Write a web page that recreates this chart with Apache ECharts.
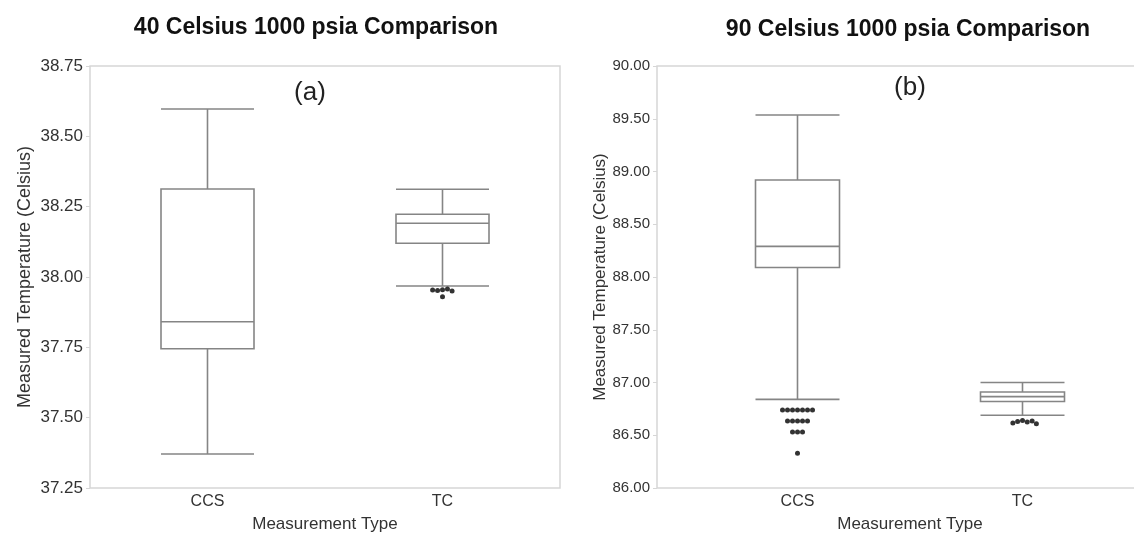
<!DOCTYPE html>
<html><head><meta charset="utf-8">
<script src="https://cdn.jsdelivr.net/npm/echarts@6/dist/echarts.min.js"></script>
<style>html,body{margin:0;padding:0;background:#fff}#c{width:1134px;height:535px}</style>
</head><body><div id="c"></div>
<script>
const categories = ['CCS', 'TC'];
const titles = ['40 Celsius 1000 psia Comparison', '90 Celsius 1000 psia Comparison'];
const panelTags = ['(a)', '(b)'];
const yName = 'Measured Temperature (Celsius)';
const xName = 'Measurement Type';
// [min, Q1, median, Q3, max]
const leftBox = [
  [37.371, 37.745, 37.841, 38.313, 38.597],
  [37.968, 38.120, 38.191, 38.223, 38.312]
];
const leftOutliers = [
  ['TC', 37.955], ['TC', 37.952], ['TC', 37.957], ['TC', 37.950], ['TC', 37.954], ['TC', 37.930]
];
const rightBox = [
  [86.84, 88.09, 88.29, 88.92, 89.535],
  [86.69, 86.82, 86.866, 86.91, 87.00]
];
const rightOutliers = [
  ['CCS', 86.74], ['CCS', 86.74], ['CCS', 86.74], ['CCS', 86.74], ['CCS', 86.74], ['CCS', 86.74], ['CCS', 86.74],
  ['CCS', 86.635], ['CCS', 86.635], ['CCS', 86.635], ['CCS', 86.635], ['CCS', 86.635],
  ['CCS', 86.53], ['CCS', 86.53], ['CCS', 86.53],
  ['CCS', 86.33],
  ['TC', 86.64], ['TC', 86.63], ['TC', 86.625], ['TC', 86.615], ['TC', 86.635], ['TC', 86.61]
];
const leftRange = { min: 37.25, max: 38.75, interval: 0.25 };
const rightRange = { min: 86, max: 90, interval: 0.5 };

const FONT = 'Liberation Sans';
const boxColor = '#858585';
const frameColor = '#d6d6d6';
const textColor = '#333';

const chart = echarts.init(document.getElementById('c'));
const fmt = v => v.toFixed(2);

function yAxisVisible(gridIndex, r, nameGap, nameSize, labelSize) {
  return {
    type: 'value', gridIndex, min: r.min, max: r.max, interval: r.interval,
    name: yName, nameLocation: 'middle', nameGap: nameGap,
    nameTextStyle: { fontFamily: FONT, fontSize: nameSize, color: textColor },
    axisLine: { show: false },
    axisTick: { show: true, length: 4, lineStyle: { color: frameColor } },
    axisLabel: { formatter: fmt, fontFamily: FONT, fontSize: labelSize, color: textColor, margin: 7 },
    splitLine: { show: false }
  };
}

function xAxisVisible(gridIndex, jitter) {
  return {
    type: 'category', gridIndex, data: categories,
    name: xName, nameLocation: 'middle', nameGap: 28,
    nameTextStyle: { fontFamily: FONT, fontSize: 17, color: textColor },
    axisLine: { show: false }, axisTick: { show: false },
    axisLabel: { fontFamily: FONT, fontSize: 16, color: textColor, margin: 6 },
    jitter: jitter, jitterOverlap: false, jitterMargin: 0
  };
}

const option = {
  backgroundColor: '#fff',
  animation: false,
  grid: [
    { left: 90, top: 66, width: 470, height: 422, show: true, borderColor: frameColor, borderWidth: 1.5, outerBoundsMode: 'none', containLabel: false },
    { left: 657, top: 66, width: 505, height: 422, show: true, borderColor: frameColor, borderWidth: 1.5, outerBoundsMode: 'none', containLabel: false },
    { left: 685, top: 66, width: 450, height: 422, show: false, outerBoundsMode: 'none', containLabel: false }
  ],
  xAxis: [
    xAxisVisible(0, 24),
    { type: 'category', gridIndex: 1, data: [''], show: false },
    xAxisVisible(2, 34)
  ],
  yAxis: [
    yAxisVisible(0, leftRange, 56, 18, 17),
    yAxisVisible(1, rightRange, 35, 17, 15),
    { type: 'value', gridIndex: 2, min: rightRange.min, max: rightRange.max, interval: rightRange.interval, show: false }
  ],
  graphic: [
    { type: 'text', x: 316, y: 28, style: { text: titles[0], font: 'bold 23px "Liberation Sans"', fill: '#111', align: 'center', verticalAlign: 'middle' } },
    { type: 'text', x: 908, y: 30, style: { text: titles[1], font: 'bold 23px "Liberation Sans"', fill: '#111', align: 'center', verticalAlign: 'middle' } },
    { type: 'text', x: 310, y: 93, style: { text: panelTags[0], font: '26px "Liberation Sans"', fill: '#222', align: 'center', verticalAlign: 'middle' } },
    { type: 'text', x: 910, y: 88, style: { text: panelTags[1], font: '26px "Liberation Sans"', fill: '#222', align: 'center', verticalAlign: 'middle' } }
  ],
  series: [
    {
      type: 'boxplot', xAxisIndex: 0, yAxisIndex: 0, data: leftBox,
      boxWidth: [93, 93],
      itemStyle: { color: 'transparent', borderColor: boxColor, borderWidth: 1.6 }
    },
    {
      type: 'scatter', xAxisIndex: 0, yAxisIndex: 0, data: leftOutliers,
      symbolSize: 5, itemStyle: { color: '#000' }
    },
    {
      type: 'boxplot', xAxisIndex: 2, yAxisIndex: 2, data: rightBox,
      boxWidth: [84, 84],
      itemStyle: { color: 'transparent', borderColor: boxColor, borderWidth: 1.6 }
    },
    {
      type: 'scatter', xAxisIndex: 2, yAxisIndex: 2, data: rightOutliers,
      symbolSize: 5, itemStyle: { color: '#000' }
    }
  ]
};
chart.setOption(option);
</script>
</body></html>
